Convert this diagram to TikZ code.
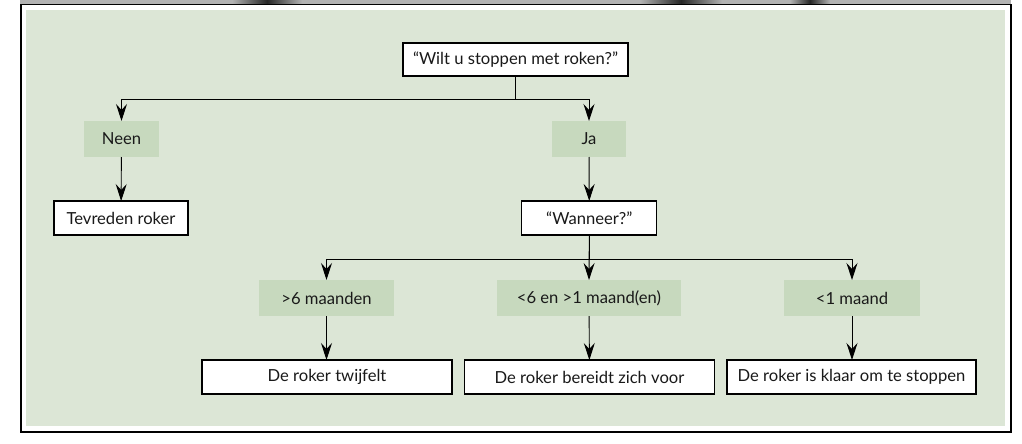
\documentclass[tikz,border=0pt]{standalone}
\usepackage{fontspec}
\setmainfont{Lato}
\usepackage{xcolor}
\usetikzlibrary{arrows.meta,positioning,calc}
\definecolor{achtergrond}{RGB}{220,230,214}
\definecolor{keuzegroen}{RGB}{199,217,190}
\definecolor{balk}{RGB}{178,178,178}

\begin{document}
\begin{tikzpicture}[x=1pt,y=-1pt,every node/.style={outer sep=0pt,font=\fontsize{16.6}{20}\selectfont,text=black!90}]
\tikzstyle{kader}=[draw,line width=1.3pt,fill=white,minimum height=34pt,inner sep=1pt]
\tikzstyle{keuze}=[fill=keuzegroen,minimum height=36pt,inner sep=1pt]
\tikzstyle{pijl}=[line width=0.9pt,-{Stealth[length=17pt,width=11pt,inset=6pt]}]
\useasboundingbox (0,0) rectangle (1022,444);
% balk en kader
\fill[balk] (20,0) rectangle (1011,4.5);
\shade[left color=balk,right color=balk,middle color=black!85] (232,0) rectangle (302,4.5);
\shade[left color=balk,right color=balk,middle color=black!85] (640,0) rectangle (722,4.5);
\shade[left color=balk,right color=balk,middle color=black!85] (790,0) rectangle (830,4.5);
\fill[achtergrond] (26,10) rectangle (1005,425.7);
\draw[line width=1.8pt] (21.3,4.5) rectangle (1010.7,431.7);
%
\node (vraag) [kader,minimum width=225pt,minimum height=33pt] at (515.5,59.5) {``Wilt u stoppen met roken?''};
\node (neen) [keuze,minimum width=75pt] at (121.5,139) {Neen};
\node (ja) [keuze,minimum width=74pt] at (589,139) {Ja};
\node (tevreden) [kader,minimum width=134pt] at (121,218) {Tevreden roker};
\node (wanneer) [kader,minimum width=135pt] at (589.3,218) {``Wanneer?''};
\node (zes) [keuze,minimum width=135pt] at (326.5,298) {>6 maanden};
\node (tussen) [keuze,minimum width=184pt] at (589,298) {<6 en >1 maand(en)};
\node (een) [keuze,minimum width=136pt] at (852,298) {<1 maand};
\node (twijfelt) [kader,minimum width=250pt] at (327,377) {De roker twijfelt};
\node (bereidt) [kader,minimum width=250pt] at (589.5,377) {De roker bereidt zich voor};
\node (klaar) [kader,minimum width=249pt] at (851.5,377) {De roker is klaar om te stoppen};
%
\draw [pijl] (vraag.south) -- ++(0,23) -| (neen.north);
\draw [pijl] (vraag.south) -- ++(0,23) -| (ja.north);
\draw [pijl] (neen) -- (tevreden);
\draw [pijl] (ja) -- (wanneer);
\draw [pijl] (wanneer.south) -- ++(0,24) -| (zes.north);
\draw [pijl] (wanneer.south) -- (tussen.north);
\draw [pijl] (wanneer.south) -- ++(0,24) -| (een.north);
\draw [pijl] (zes.south) -- (zes.south |- twijfelt.north);
\draw [pijl] (tussen) -- (bereidt);
\draw [pijl] (een.south) -- (een.south |- klaar.north);
\end{tikzpicture}
\end{document}
